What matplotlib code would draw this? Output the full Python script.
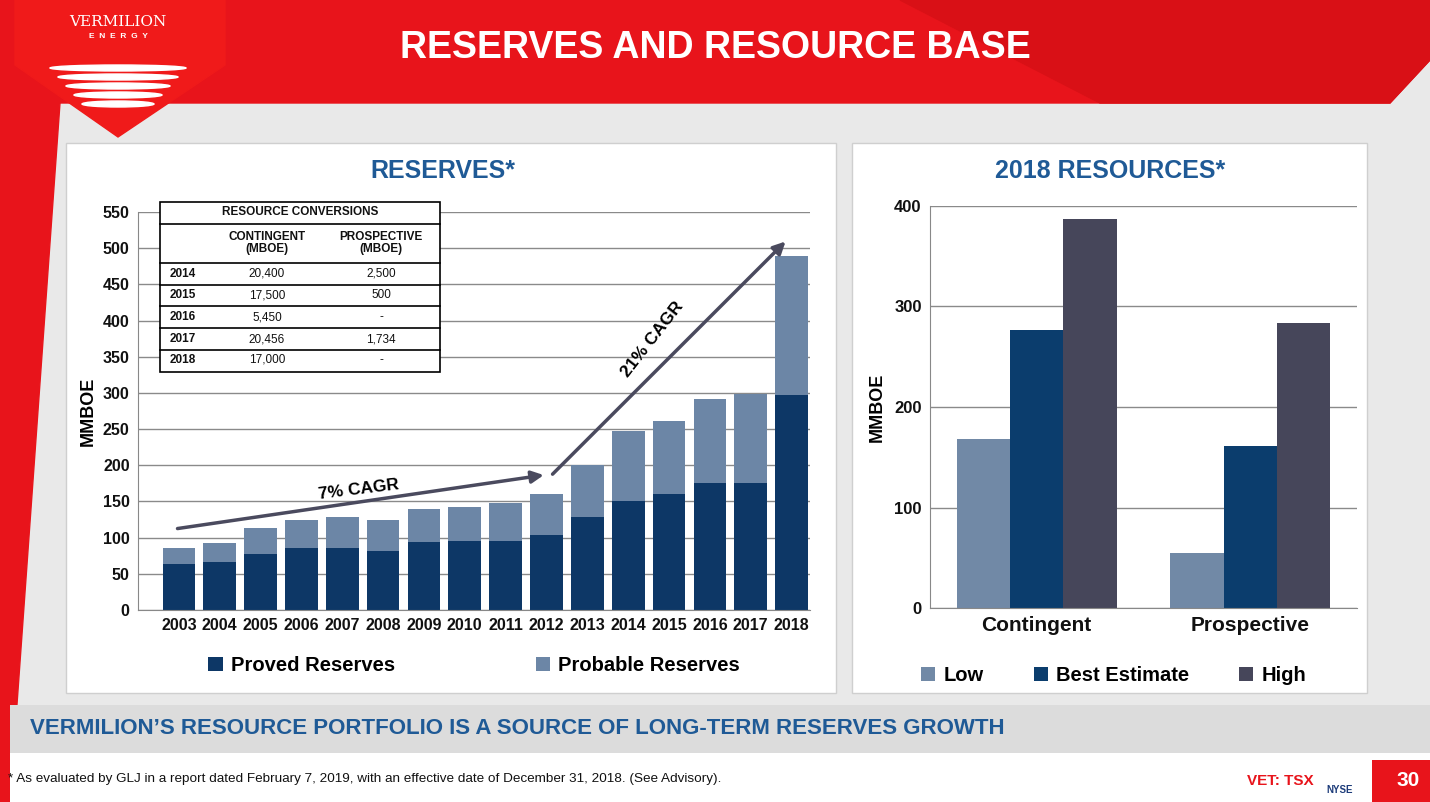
import matplotlib
matplotlib.use("Agg")
import matplotlib.pyplot as plt
import matplotlib.patches as mpatches
import numpy as np

# ── Data ──────────────────────────────────────────────────────────────────────
YEARS    = [str(y) for y in range(2003, 2019)]
PROVED   = [63, 67, 78, 85, 85, 81, 94, 96, 96, 104, 128, 150, 160, 175, 175, 297]
TOTAL    = [85, 93, 113, 125, 128, 124, 140, 143, 148, 160, 200, 247, 261, 291, 299, 489]
PROBABLE = [t - p for t, p in zip(TOTAL, PROVED)]

RES_CATS = ["Contingent", "Prospective"]
RES_LOW  = [168, 55]
RES_BEST = [277, 161]
RES_HIGH = [387, 284]

TABLE_ROWS = [("2014", "20,400", "2,500"), ("2015", "17,500", "500"),
              ("2016", "5,450", "-"), ("2017", "20,456", "1,734"),
              ("2018", "17,000", "-")]

# ── Colours ───────────────────────────────────────────────────────────────────
C_PROVED = "#0d3766"
C_PROB   = "#6c86a6"
C_LOW    = "#7189a6"
C_BEST   = "#0b3d6d"
C_HIGH   = "#46465a"
C_RED    = "#e8141b"
C_BLUE   = "#1f5a96"
C_TXT    = "#111111"
FONT     = "Liberation Sans"

W, H = 1430, 802
fig = plt.figure(figsize=(W / 100, H / 100), dpi=100, facecolor="#e9e9e9")


def px_axes(x0, y0, x1, y1, z=1):
    return fig.add_axes([x0 / W, 1 - y1 / H, (x1 - x0) / W, (y1 - y0) / H], zorder=z)


# ── Background decorations ────────────────────────────────────────────────────
bg = px_axes(0, 0, W, H, z=0)
bg.set_xlim(0, W); bg.set_ylim(H, 0); bg.axis("off")
bg.add_patch(mpatches.Polygon([(0, 0), (W, 0), (W, 60), (1390, 103), (0, 103)],
                              color=C_RED, zorder=1))
bg.add_patch(mpatches.Polygon([(900, 0), (W, 0), (W, 60), (1390, 103), (1100, 103)],
                              color="#d91016", zorder=1))
bg.add_patch(mpatches.Polygon([(0, 103), (60, 103), (10, 802), (0, 802)],
                              color=C_RED, zorder=1))
bg.add_patch(mpatches.Polygon([(15, 0), (225, 0), (225, 65), (118, 137), (15, 65)],
                              color="#f01a1a", zorder=2))
for w, y in [(68, 68), (60, 77), (52, 86), (44, 95), (36, 104)]:
    bg.add_patch(mpatches.Ellipse((118, y), 2 * w, 6, color="white", zorder=3))
bg.text(118, 22, "VERMILION", ha="center", va="center", color="white",
        fontsize=11, family="DejaVu Serif", zorder=4)
bg.text(118, 36, "E  N  E  R  G  Y", ha="center", va="center", color="white",
        fontsize=6, fontweight="bold", family=FONT, zorder=4)
bg.text(715, 48, "RESERVES AND RESOURCE BASE", ha="center", va="center",
        color="white", fontsize=27, fontweight="bold", family=FONT, zorder=4)
bg.add_patch(mpatches.Rectangle((66, 143), 770, 550, fc="white", ec="#cfcfcf", zorder=1))
bg.add_patch(mpatches.Rectangle((852, 143), 515, 550, fc="white", ec="#cfcfcf", zorder=1))
bg.add_patch(mpatches.Rectangle((10, 705), W, 48, fc="#dcdcdc", ec="none", zorder=1))
bg.add_patch(mpatches.Rectangle((10, 753), W, 49, fc="white", ec="none", zorder=1))
bg.add_patch(mpatches.Rectangle((1372, 760), 58, 42, fc=C_RED, ec="none", zorder=2))
bg.text(1408, 781, "30", ha="center", va="center", color="white", fontsize=15,
        fontweight="bold", family=FONT, zorder=3)
bg.text(30, 728, "VERMILION’S RESOURCE PORTFOLIO IS A SOURCE OF LONG-TERM RESERVES GROWTH",
        ha="left", va="center", color=C_BLUE, fontsize=16, fontweight="bold",
        family=FONT, zorder=3)
bg.text(8, 779, "* As evaluated by GLJ in a report dated February 7, 2019, with an effective "
        "date of December 31, 2018. (See Advisory).", ha="left", va="center",
        color=C_TXT, fontsize=9.7, family=FONT, zorder=3)
bg.text(1280, 781, "VET: TSX", ha="center", va="center", color=C_RED, fontsize=11,
        fontweight="bold", family=FONT, zorder=3)
bg.text(1340, 790, "NYSE", ha="center", va="center", color="#1d3c7a", fontsize=7,
        fontweight="bold", family=FONT, zorder=3)
bg.text(443, 171, "RESERVES*", ha="center", va="center", color=C_BLUE, fontsize=18,
        fontweight="bold", family=FONT, zorder=3)
bg.text(1110, 171, "2018 RESOURCES*", ha="center", va="center", color=C_BLUE,
        fontsize=18, fontweight="bold", family=FONT, zorder=3)


def style_axes(ax, size):
    ax.set_facecolor("none")
    for s in ["top", "right"]:
        ax.spines[s].set_visible(False)
    ax.spines["left"].set_color("#888888")
    ax.spines["bottom"].set_color("#888888")
    ax.grid(axis="y", color="#8a8a8a", lw=1)
    ax.set_axisbelow(True)
    ax.tick_params(length=0, labelsize=size, pad=6)
    for lbl in ax.get_xticklabels() + ax.get_yticklabels():
        lbl.set_fontweight("bold"); lbl.set_family(FONT); lbl.set_color(C_TXT)


# ── Reserves chart ────────────────────────────────────────────────────────────
ax = px_axes(138, 212, 810, 610, z=2)
x = np.arange(len(YEARS))
ax.bar(x, PROVED, width=0.8, color=C_PROVED, label="Proved Reserves")
ax.bar(x, PROBABLE, bottom=PROVED, width=0.8, color=C_PROB, label="Probable Reserves")
ax.set_xlim(-1, len(YEARS) - 0.55)
ax.set_ylim(0, 550)
ax.set_yticks(range(0, 551, 50))
ax.set_xticks(x, YEARS)
style_axes(ax, 11.5)
ax.set_ylabel("MMBOE", fontsize=13, fontweight="bold", family=FONT, labelpad=4)
ax.annotate("", xy=(9.0, 187), xytext=(-0.1, 112),
            arrowprops=dict(arrowstyle="-|>", color="#4a4a5e", lw=2.5, mutation_scale=18))
ax.annotate("", xy=(14.9, 512), xytext=(9.1, 185),
            arrowprops=dict(arrowstyle="-|>", color="#4a4a5e", lw=2.5, mutation_scale=18))
ax.text(4.4, 167, "7% CAGR", ha="center", va="center", rotation=7, fontsize=12.5,
        fontweight="bold", family=FONT)
ax.text(11.6, 374, "21% CAGR", ha="center", va="center", rotation=52, fontsize=12.5,
        fontweight="bold", family=FONT)
ax.legend(loc="upper center", bbox_to_anchor=(0.5, -0.07), ncol=2, frameon=False,
          prop=dict(family=FONT, size=14.5, weight="bold"), columnspacing=7,
          handlelength=0.7, handleheight=0.7, handletextpad=0.4)

# ── Resources chart ───────────────────────────────────────────────────────────
ax2 = px_axes(930, 206, 1357, 608, z=2)
xr = np.arange(len(RES_CATS))
bw = 0.25
ax2.bar(xr - bw, RES_LOW, bw, color=C_LOW, label="Low")
ax2.bar(xr, RES_BEST, bw, color=C_BEST, label="Best Estimate")
ax2.bar(xr + bw, RES_HIGH, bw, color=C_HIGH, label="High")
ax2.set_xlim(-0.5, 1.5)
ax2.set_ylim(0, 400)
ax2.set_yticks(range(0, 401, 100))
ax2.set_xticks(xr, RES_CATS)
style_axes(ax2, 12)
for lbl in ax2.get_xticklabels():
    lbl.set_fontsize(15)
ax2.set_ylabel("MMBOE", fontsize=13, fontweight="bold", family=FONT, labelpad=6)
ax2.legend(loc="upper center", bbox_to_anchor=(0.43, -0.1), ncol=3, frameon=False,
           prop=dict(family=FONT, size=14.5, weight="bold"), columnspacing=2.5,
           handlelength=0.7, handleheight=0.7, handletextpad=0.4)

# ── Resource conversions table ────────────────────────────────────────────────
fg = px_axes(0, 0, W, H, z=5)
fg.set_xlim(0, W); fg.set_ylim(H, 0); fg.axis("off")
tx0, tx1 = 160, 440
fg.add_patch(mpatches.Rectangle((tx0, 202), tx1 - tx0, 170, fc="white", ec="black", lw=1.2))
for yl in [224, 263, 285, 306, 328, 350]:
    fg.plot([tx0, tx1], [yl, yl], color="black", lw=1.2)
kw = dict(family=FONT, fontsize=8.5, va="center", color=C_TXT)
fg.text(300, 212, "RESOURCE CONVERSIONS", ha="center", fontweight="bold", **kw)
fg.text(267, 243, "CONTINGENT\n(MBOE)", ha="center", fontweight="bold",
        linespacing=1.0, **kw)
fg.text(381, 243, "PROSPECTIVE\n(MBOE)", ha="center", fontweight="bold",
        linespacing=1.0, **kw)
for (yr, cont, prosp), yc in zip(TABLE_ROWS, [274, 295, 317, 339, 360]):
    fg.text(170, yc, yr, ha="left", fontweight="bold", **kw)
    fg.text(267, yc, cont, ha="center", **kw)
    fg.text(381, yc, prosp, ha="center", **kw)

fig.savefig("out.png", dpi=100, facecolor=fig.get_facecolor())
